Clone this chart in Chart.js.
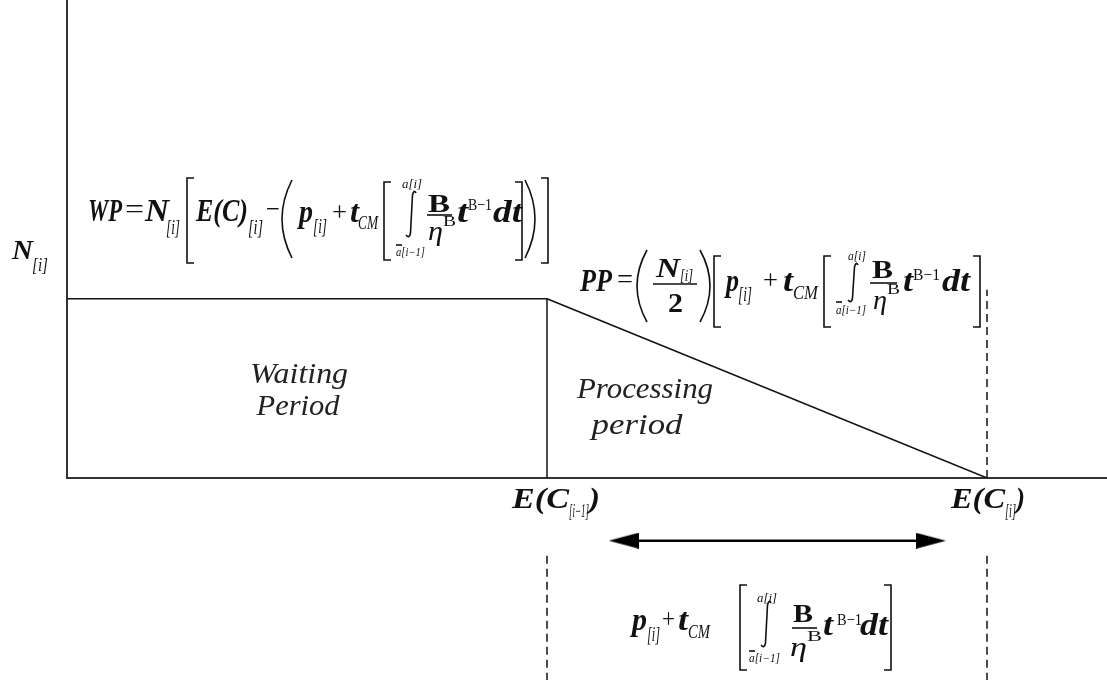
<!DOCTYPE html>
<html>
<head>
<meta charset="utf-8">
<script src="https://cdn.jsdelivr.net/npm/chart.js@4.4.1/dist/chart.umd.min.js"></script>
<style>
html, body { margin: 0; padding: 0; background: #fff; }
#wrap { width: 1107px; height: 680px; position: relative; }
</style>
</head>
<body>
<div id="wrap"><canvas id="c"></canvas></div>
<script>
// values in axis units (x = time, y = jobs)
const N_i = 3;
const E_prev = 6;      // E(C[i-1])
const E_curr = 11.5;   // E(C[i])
const xRange = [0, 13];
const yRange = [0, 8];

const waitX = [0, E_prev];
const waitY = [N_i, N_i];
const procX = [E_prev, E_curr];
const procY = [N_i, 0];
const edgeX = [E_prev, E_prev];
const edgeY = [0, N_i];
const dashTopY = [0, 3.15];
const guideY = [-1.3, -3.4];
const arrowX = [6.96, 10.8];
const arrowY = [-1.05, -1.05];

function pts(xs, ys) { return xs.map((x, i) => ({ x: x, y: ys[i] })); }

// arrow head used as point style
const head = document.createElement('canvas');
head.width = 30; head.height = 16;
const hc = head.getContext('2d');
hc.fillStyle = '#000';
hc.beginPath(); hc.moveTo(0, 0); hc.lineTo(30, 8); hc.lineTo(0, 16); hc.closePath(); hc.fill();

const SERIF = '"Liberation Serif", "Times New Roman", serif';
const BI = s => `bold italic ${s}px ${SERIF}`;
const IT = s => `italic ${s}px ${SERIF}`;
const RG = s => `${s}px ${SERIF}`;
const BD = s => `bold ${s}px ${SERIF}`;

function put(ctx, s, x, y, font, w) {
  ctx.save();
  ctx.font = font;
  const m = ctx.measureText(s).width;
  ctx.translate(x, y);
  if (w) ctx.scale(w / m, 1);
  ctx.fillText(s, 0, 0);
  ctx.restore();
}
function putC(ctx, s, cx, y, font, w) { put(ctx, s, cx - w / 2, y, font, w); }
function sq(ctx, x, top, bot, dir) {
  ctx.beginPath();
  ctx.moveTo(x + dir * 7, top); ctx.lineTo(x, top); ctx.lineTo(x, bot); ctx.lineTo(x + dir * 7, bot);
  ctx.stroke();
}
function paren(ctx, x, top, bot, dir) {
  ctx.beginPath();
  ctx.moveTo(x + dir * 10, top);
  ctx.quadraticCurveTo(x - dir * 10, (top + bot) / 2, x + dir * 10, bot);
  ctx.stroke();
}
function integral(ctx, x, top, bot) {
  ctx.beginPath();
  ctx.moveTo(x + 5, top + 3);
  ctx.quadraticCurveTo(x + 3, top - 1, x + 1.5, top + 5);
  ctx.lineTo(x - 0.5, bot - 5);
  ctx.quadraticCurveTo(x - 1.5, bot + 1, x - 5, bot - 3);
  ctx.stroke();
}
function hline(ctx, x1, x2, y) {
  ctx.beginPath(); ctx.moveTo(x1, y); ctx.lineTo(x2, y); ctx.stroke();
}

const labels = {
  id: 'labels',
  afterDatasetsDraw(chart) {
    const ctx = chart.ctx;
    ctx.save();
    ctx.fillStyle = '#111';
    ctx.strokeStyle = '#111';
    ctx.lineWidth = 1.6;
    ctx.textBaseline = 'alphabetic';

    // y label
    put(ctx, 'N', 12, 259, BI(28), 21);
    put(ctx, '[i]', 32, 271, IT(19), 16);

    // WP formula
    put(ctx, 'WP', 88, 221, BI(31), 34);
    put(ctx, '=', 125, 218, RG(28), 19);
    put(ctx, 'N', 145, 221, BI(31), 24);
    put(ctx, '[i]', 166, 234, IT(21), 14);
    sq(ctx, 187, 178, 263, 1);
    put(ctx, 'E(C)', 196, 221, BI(31), 52);
    put(ctx, '[i]', 248, 234, IT(21), 15);
    put(ctx, '\u2212', 266, 218, RG(28), 14);
    paren(ctx, 282, 180, 258, 1);
    put(ctx, 'p', 299, 222, BI(31), 14);
    put(ctx, '[i]', 313, 233, IT(20), 14);
    put(ctx, '+', 332, 221, RG(28), 15);
    put(ctx, 't', 350, 222, BI(31), 9);
    put(ctx, 'CM', 358, 229, IT(18), 20);
    sq(ctx, 384, 182, 260, 1);
    integral(ctx, 411, 190, 238);
    put(ctx, 'a[i]', 402, 188, IT(12), 20);
    put(ctx, 'a[i\u22121]', 396, 256, IT(12), 29);
    hline(ctx, 396, 402, 245);
    put(ctx, 'B', 428, 212, BD(26), 22);
    hline(ctx, 427, 452, 215);
    put(ctx, '\u03b7', 428, 240, IT(28), 15);
    put(ctx, 'B', 443, 226, RG(15), 13);
    put(ctx, 't', 457, 222, BI(31), 11);
    put(ctx, 'B\u22121', 468, 210, RG(17), 24);
    put(ctx, 'dt', 493, 222, BI(31), 29);
    sq(ctx, 522, 182, 260, -1);
    paren(ctx, 535, 180, 258, -1);
    sq(ctx, 548, 178, 263, -1);

    // PP formula
    put(ctx, 'PP', 580, 291, BI(31), 32);
    put(ctx, '=', 617, 288, RG(28), 16);
    paren(ctx, 637, 250, 322, 1);
    put(ctx, 'N', 656, 277, BI(28), 24);
    put(ctx, '[i]', 680, 281, IT(17), 13);
    hline(ctx, 653, 697, 284);
    put(ctx, '2', 668, 312, BD(28), 15);
    paren(ctx, 710, 250, 322, -1);
    sq(ctx, 714, 256, 327, 1);
    put(ctx, 'p', 726, 291, BI(31), 13);
    put(ctx, '[i]', 738, 301, IT(20), 14);
    put(ctx, '+', 763, 289, RG(28), 15);
    put(ctx, 't', 783, 291, BI(31), 10);
    put(ctx, 'CM', 793, 299, IT(18), 25);
    sq(ctx, 824, 256, 327, 1);
    integral(ctx, 853, 262, 303);
    put(ctx, 'a[i]', 848, 260, IT(12), 18);
    put(ctx, 'a[i\u22121]', 836, 314, IT(12), 30);
    hline(ctx, 836, 842, 302);
    put(ctx, 'B', 872, 278, BD(26), 21);
    hline(ctx, 870, 897, 283);
    put(ctx, '\u03b7', 873, 309, IT(28), 14);
    put(ctx, 'B', 887, 294, RG(15), 13);
    put(ctx, 't', 903, 291, BI(31), 10);
    put(ctx, 'B\u22121', 913, 280, RG(17), 27);
    put(ctx, 'dt', 942, 291, BI(31), 28);
    sq(ctx, 980, 256, 327, -1);

    // duration formula
    put(ctx, 'p', 632, 630, BI(31), 15);
    put(ctx, '[i]', 647, 641, IT(20), 13);
    put(ctx, '+', 662, 628, RG(28), 13);
    put(ctx, 't', 678, 630, BI(31), 10);
    put(ctx, 'CM', 688, 638, IT(18), 22);
    sq(ctx, 740, 585, 670, 1);
    integral(ctx, 766, 600, 648);
    put(ctx, 'a[i]', 757, 602, IT(12), 20);
    put(ctx, 'a[i\u22121]', 749, 662, IT(12), 31);
    hline(ctx, 749, 755, 651);
    put(ctx, 'B', 793, 622, BD(26), 20);
    hline(ctx, 792, 817, 628);
    put(ctx, '\u03b7', 790, 656, IT(28), 17);
    put(ctx, 'B', 807, 641, RG(15), 15);
    put(ctx, 't', 823, 635, BI(31), 10);
    put(ctx, 'B\u22121', 837, 625, RG(17), 25);
    put(ctx, 'dt', 860, 635, BI(31), 28);
    sq(ctx, 891, 585, 670, -1);

    // axis labels
    put(ctx, 'E(C', 512, 508, BI(29), 57);
    put(ctx, '[i\u22121]', 569, 517, IT(18), 20);
    put(ctx, ')', 589, 508, BI(29), 11);
    put(ctx, 'E(C', 951, 508, BI(29), 54);
    put(ctx, '[i]', 1005, 517, IT(18), 11);
    put(ctx, ')', 1016, 508, BI(29), 9);

    // period labels
    ctx.fillStyle = '#222';
    putC(ctx, 'Waiting', 299, 383, IT(29), 98);
    putC(ctx, 'Period', 298, 415, IT(29), 83);
    putC(ctx, 'Processing', 645, 398, IT(29), 136);
    putC(ctx, 'period', 637, 434, IT(29), 91);
    ctx.restore();
  }
};

const solid = { showLine: true, borderColor: '#111', borderWidth: 1.5, pointRadius: 0, tension: 0 };
const dashed = { showLine: true, borderColor: '#111', borderWidth: 1.5, pointRadius: 0, borderDash: [8, 5], clip: false };

new Chart(document.getElementById('c'), {
  type: 'scatter',
  data: {
    datasets: [
      Object.assign({ data: pts(waitX, waitY) }, solid),
      Object.assign({ data: pts(procX, procY) }, solid),
      Object.assign({ data: pts(edgeX, edgeY) }, solid),
      Object.assign({ data: pts([E_curr, E_curr], dashTopY) }, dashed),
      Object.assign({ data: pts([E_prev, E_prev], guideY) }, dashed),
      Object.assign({ data: pts([E_curr, E_curr], guideY) }, dashed),
      {
        data: pts(arrowX, arrowY), showLine: true, borderColor: '#000', borderWidth: 2.5,
        pointStyle: head, pointRotation: [180, 0], pointRadius: 70, clip: false
      }
    ]
  },
  options: {
    responsive: true,
    maintainAspectRatio: false,
    animation: false,
    events: [],
    layout: { autoPadding: false, padding: { left: 67, right: 0, top: 0, bottom: 202 } },
    plugins: { legend: { display: false }, tooltip: { enabled: false } },
    scales: {
      x: {
        type: 'linear', min: xRange[0], max: xRange[1],
        grid: { display: false, drawTicks: false }, ticks: { display: false },
        border: { display: true, color: '#333', width: 2 }
      },
      y: {
        type: 'linear', min: yRange[0], max: yRange[1],
        grid: { display: false, drawTicks: false }, ticks: { display: false },
        border: { display: true, color: '#333', width: 2 }
      }
    }
  },
  plugins: [labels]
});
</script>
</body>
</html>
